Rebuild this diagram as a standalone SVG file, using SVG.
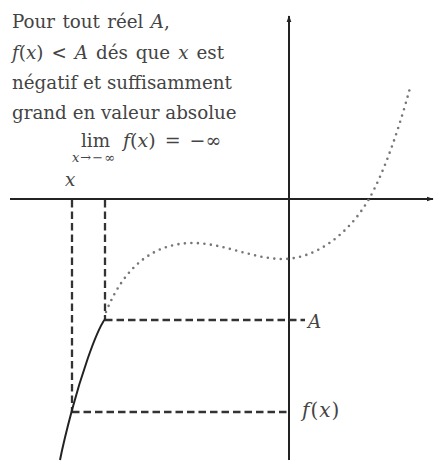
<svg xmlns="http://www.w3.org/2000/svg" width="435" height="467" viewBox="0 0 435 467">
<defs>
<style>
.txt{font-family:"DejaVu Serif","Liberation Serif",serif;font-size:18.3px;fill:#444}
.it{font-style:italic}
.sub{font-size:13px;letter-spacing:1px}
.axis{stroke:#222;stroke-width:2;fill:none}
.dash{stroke:#333;stroke-width:2.3;fill:none;stroke-dasharray:7.5 4}
.dot{stroke:#777;stroke-width:2.6;fill:none;stroke-dasharray:0 6.5;stroke-linecap:round}
.solid{stroke:#222;stroke-width:2;fill:none}
</style>
<marker id="arr" viewBox="0 0 10 10" refX="9" refY="5" markerWidth="7" markerHeight="7" orient="auto" markerUnits="userSpaceOnUse">
<path d="M0,1.5 L10,5 L0,8.5 z" fill="#222"/>
</marker>
</defs>
<rect width="435" height="467" fill="#fff"/>
<g id="axes">
<line class="axis" x1="10" y1="199" x2="433" y2="199" marker-end="url(#arr)"/>
<line class="axis" x1="289" y1="460" x2="289" y2="16" marker-end="url(#arr)"/>
</g>
<g id="connectors">
<line class="dash" x1="72" y1="200" x2="72" y2="412"/>
<line class="dash" x1="105" y1="200" x2="105" y2="319"/>
<line class="dash" x1="105" y1="320" x2="305" y2="320"/>
<line class="dash" x1="72" y1="412" x2="289" y2="412"/>
</g>
<g id="curves">
<path class="dot" d="M106,312 C125,265 155,243 193,243 C223,243 253,259 283,259 C315,259 348,235 369,199 C385,171 400,125 410,88"/>
<path class="solid" d="M105,319 C95,333 80,380 72,410 S62,450 60,460"/>
</g>
<g id="text-block">
<text class="txt" x="12" y="28" word-spacing="1.5">Pour tout réel <tspan class="it">A</tspan>,</text>
<text class="txt" x="12" y="59" word-spacing="2.2"><tspan class="it">f</tspan>(<tspan class="it">x</tspan>) &lt; <tspan class="it">A</tspan> dés que <tspan class="it">x</tspan> est</text>
<text class="txt" x="12" y="89">négatif et suffisamment</text>
<text class="txt" x="12" y="119">grand en valeur absolue</text>
<text class="txt" x="81" y="147">lim</text>
<text class="txt sub" x="72" y="162"><tspan class="it">x</tspan>→−∞</text>
<text class="txt" x="123" y="147" style="font-size:19px" word-spacing="3"><tspan class="it">f</tspan>(<tspan class="it">x</tspan>) = −∞</text>
</g>
<g id="labels">
<text class="txt it" x="65" y="186">x</text>
<text class="txt it" x="308" y="328">A</text>
<text class="txt" x="302" y="417" style="font-size:20px" letter-spacing="1"><tspan class="it">f</tspan>(<tspan class="it">x</tspan>)</text>
</g>
</svg>
